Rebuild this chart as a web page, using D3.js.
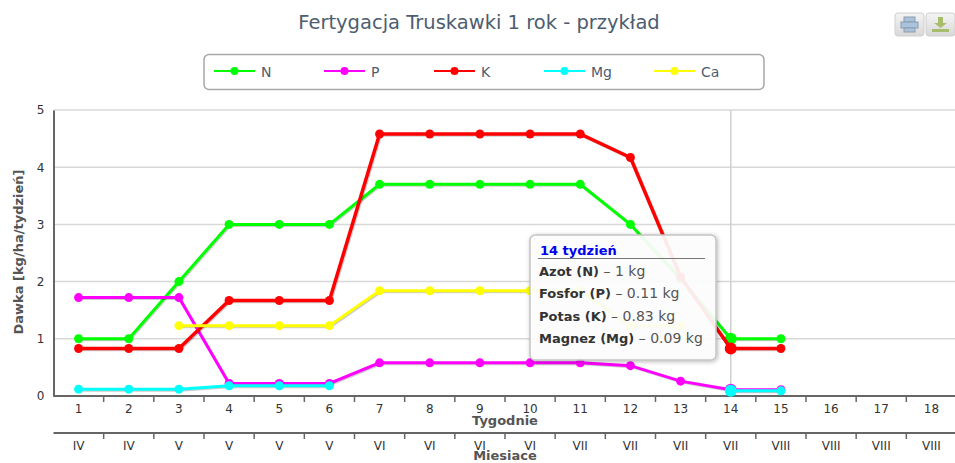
<!DOCTYPE html>
<html>
<head>
<meta charset="utf-8">
<script src="https://cdn.jsdelivr.net/npm/d3@7"></script>
<style>
  html, body { margin: 0; padding: 0; background: #fff; overflow: hidden; }
  text { font-family: "DejaVu Sans", sans-serif; }
</style>
</head>
<body>
<div id="chart"></div>
<script>
const weeks = ['1','2','3','4','5','6','7','8','9','10','11','12','13','14','15','16','17','18'];
const months = ['IV','IV','V','V','V','V','VI','VI','VI','VI','VII','VII','VII','VII','VIII','VIII','VIII','VIII'];

const valuesN = [1, 1, 2, 3, 3, 3, 3.7, 3.7, 3.7, 3.7, 3.7, 3, 2.05, 1, 1, null, null, null];
const valuesP = [1.72, 1.72, 1.72, 0.22, 0.22, 0.22, 0.58, 0.58, 0.58, 0.58, 0.58, 0.53, 0.26, 0.11, 0.11, null, null, null];
const valuesK = [0.83, 0.83, 0.83, 1.67, 1.67, 1.67, 4.58, 4.58, 4.58, 4.58, 4.58, 4.17, 2.08, 0.83, 0.83, null, null, null];
const valuesMg = [0.12, 0.12, 0.12, 0.18, 0.18, 0.18, null, null, null, null, null, null, null, 0.09, 0.09, null, null, null];
const valuesCa = [null, null, 1.23, 1.23, 1.23, 1.23, 1.84, 1.84, 1.84, 1.84, 1.84, 1.23, 1.23, null, null, null, null, null];

const seriesNames = ['N', 'P', 'K', 'Mg', 'Ca'];
const seriesValues = [valuesN, valuesP, valuesK, valuesMg, valuesCa];
const seriesColors = ['#00ff00', '#ff00ff', '#ff0000', '#00ffff', '#ffff00'];
const seriesWidths = [3, 3, 3.5, 3, 3];

const yTicks = [0, 1, 2, 3, 4, 5];
const hoverWeek = '14';
const tooltipTitle = '14 tydzień';
const tooltipLabels = ['Azot (N)', 'Fosfor (P)', 'Potas (K)', 'Magnez (Mg)'];
const tooltipValues = ['1 kg', '0.11 kg', '0.83 kg', '0.09 kg'];

const width = 955, height = 463;
const margin = { top: 110, right: -1.5, bottom: 67, left: 53.5 };
const monthAxisY = 433;

const svg = d3.select('#chart').append('svg')
  .attr('width', width)
  .attr('height', height);

const x = d3.scaleBand()
  .domain(weeks)
  .range([margin.left, width - margin.right]);

const y = d3.scaleLinear()
  .domain([0, 5])
  .range([height - margin.bottom, margin.top]);

// Title
svg.append('text')
  .attr('x', 479)
  .attr('y', 29)
  .attr('text-anchor', 'middle')
  .style('font-size', '19.5px')
  .style('fill', '#4d5d6f')
  .text('Fertygacja Truskawki 1 rok - przykład');

// Export buttons
const defs = svg.append('defs');
const btnGrad = defs.append('linearGradient')
  .attr('id', 'btn-grad')
  .attr('x1', 0).attr('y1', 0).attr('x2', 0).attr('y2', 1);
btnGrad.append('stop').attr('offset', '0%').attr('stop-color', '#f4f4f4');
btnGrad.append('stop').attr('offset', '100%').attr('stop-color', '#d8d8d8');

const shadow = defs.append('filter').attr('id', 'tip-shadow')
  .attr('x', '-10%').attr('y', '-10%').attr('width', '120%').attr('height', '120%');
shadow.append('feDropShadow')
  .attr('dx', 1).attr('dy', 1).attr('stdDeviation', 2)
  .attr('flood-color', '#000').attr('flood-opacity', 0.3);

[895, 926].forEach(bx => {
  svg.append('rect')
    .attr('x', bx).attr('y', 13)
    .attr('width', 29).attr('height', 23)
    .attr('rx', 3)
    .attr('fill', 'url(#btn-grad)')
    .attr('stroke', '#cfcfcf');
});
const printer = svg.append('g').attr('fill', '#a9c3dd').attr('stroke', '#8c9bad');
printer.append('rect').attr('x', 904).attr('y', 17).attr('width', 11).attr('height', 5);
printer.append('rect').attr('x', 901).attr('y', 22).attr('width', 17).attr('height', 6);
printer.append('rect').attr('x', 904).attr('y', 28).attr('width', 11).attr('height', 4);
const download = svg.append('g').attr('fill', '#a8bd6b').attr('stroke', 'none');
download.append('rect').attr('x', 938).attr('y', 17).attr('width', 5).attr('height', 6);
download.append('path').attr('d', 'M934,23 L947,23 L940.5,28 Z');
download.append('rect').attr('x', 932).attr('y', 29).attr('width', 17).attr('height', 3);

// Legend
svg.append('rect')
  .attr('x', 204).attr('y', 54.5)
  .attr('width', 560).attr('height', 35)
  .attr('rx', 5)
  .attr('fill', '#fff')
  .attr('stroke', '#a8a8a8')
  .attr('stroke-width', 1.5);

const legendItems = svg.selectAll('.legend-item')
  .data(seriesNames)
  .enter()
  .append('g')
  .attr('class', 'legend-item')
  .attr('transform', (d, i) => `translate(${214 + i * 110}, 71)`);

legendItems.append('line')
  .attr('x1', 0).attr('x2', 41)
  .attr('stroke', (d, i) => seriesColors[i])
  .attr('stroke-width', 2);
legendItems.append('circle')
  .attr('cx', 20.5)
  .attr('r', 4)
  .attr('fill', (d, i) => seriesColors[i]);
legendItems.append('text')
  .attr('x', 47)
  .attr('y', 5.5)
  .style('font-size', '14px')
  .style('fill', '#4d5d6f')
  .text(d => d);

// Grid
svg.selectAll('.grid-line')
  .data(yTicks.slice(1))
  .enter()
  .append('line')
  .attr('class', 'grid-line')
  .attr('x1', margin.left)
  .attr('x2', width)
  .attr('y1', d => y(d))
  .attr('y2', d => y(d))
  .attr('stroke', '#d8d8d8')
  .attr('stroke-width', 1.5);

// Crosshair
svg.append('line')
  .attr('x1', x(hoverWeek) + x.bandwidth() / 2)
  .attr('x2', x(hoverWeek) + x.bandwidth() / 2)
  .attr('y1', y(5))
  .attr('y2', y(0))
  .attr('stroke', '#cfcfcf')
  .attr('stroke-width', 1.5);

// Axes
const yAxis = d3.axisLeft(y)
  .tickValues(yTicks)
  .tickFormat(d3.format('d'))
  .tickSize(0)
  .tickPadding(9);

const yAxisG = svg.append('g')
  .attr('transform', `translate(${margin.left}, 0)`)
  .call(yAxis);
yAxisG.select('.domain').attr('stroke', '#666').attr('stroke-width', 2);
yAxisG.selectAll('text').style('font-size', '12px').style('fill', '#333');

function addWeekAxis(yPos, format) {
  const axis = d3.axisBottom(x).tickSize(0).tickPadding(8).tickFormat(format);
  const g = svg.append('g')
    .attr('transform', `translate(0, ${yPos})`)
    .call(axis);
  g.select('.domain').remove();
  g.selectAll('text').style('font-size', '12px').style('fill', '#333');
  g.append('line')
    .attr('x1', margin.left)
    .attr('x2', width)
    .attr('stroke', '#666')
    .attr('stroke-width', 2);
  g.selectAll('.boundary')
    .data(weeks)
    .enter()
    .append('line')
    .attr('class', 'boundary')
    .attr('x1', d => x(d) + x.bandwidth())
    .attr('x2', d => x(d) + x.bandwidth())
    .attr('y1', 0)
    .attr('y2', 6)
    .attr('stroke', '#666')
    .attr('stroke-width', 1.5);
}

addWeekAxis(y(0), d => d);
addWeekAxis(monthAxisY, (d, i) => months[i]);

// Axis titles
svg.append('text')
  .attr('transform', 'translate(23, 252) rotate(-90)')
  .attr('text-anchor', 'middle')
  .style('font-size', '13px')
  .style('font-weight', 'bold')
  .style('fill', '#555')
  .text('Dawka [kg/ha/tydzień]');

svg.append('text')
  .attr('x', 505)
  .attr('y', 425)
  .attr('text-anchor', 'middle')
  .style('font-size', '13px')
  .style('font-weight', 'bold')
  .style('fill', '#555')
  .text('Tygodnie');

svg.append('text')
  .attr('x', 505)
  .attr('y', 460)
  .attr('text-anchor', 'middle')
  .style('font-size', '13px')
  .style('font-weight', 'bold')
  .style('fill', '#555')
  .text('Miesiace');

// Series
const line = d3.line()
  .defined(d => d.value !== null)
  .x(d => x(d.week) + x.bandwidth() / 2)
  .y(d => y(d.value));

seriesNames.forEach((name, i) => {
  const points = weeks.map((week, j) => ({ week, value: seriesValues[i][j] }));
  const g = svg.append('g').attr('class', `series-${name}`);

  g.append('path')
    .datum(points)
    .attr('d', line)
    .attr('transform', 'translate(1, 1)')
    .attr('fill', 'none')
    .attr('stroke', '#000')
    .attr('stroke-opacity', 0.2)
    .attr('stroke-width', seriesWidths[i]);

  g.append('path')
    .datum(points)
    .attr('d', line)
    .attr('fill', 'none')
    .attr('stroke', seriesColors[i])
    .attr('stroke-width', seriesWidths[i]);

  g.selectAll('circle')
    .data(points.filter(d => d.value !== null))
    .enter()
    .append('circle')
    .attr('cx', d => x(d.week) + x.bandwidth() / 2)
    .attr('cy', d => y(d.value))
    .attr('r', d => d.week === hoverWeek ? 6 : 4.5)
    .attr('fill', seriesColors[i]);
});

// Tooltip
const tip = svg.append('g').attr('transform', 'translate(530, 235)');
tip.append('rect')
  .attr('width', 186)
  .attr('height', 125)
  .attr('rx', 5)
  .attr('fill', '#fff')
  .attr('fill-opacity', 0.9)
  .attr('stroke', '#c4c4c4')
  .attr('stroke-width', 1.5)
  .attr('filter', 'url(#tip-shadow)');
tip.append('text')
  .attr('x', 10)
  .attr('y', 20)
  .style('font-size', '13px')
  .style('font-weight', 'bold')
  .style('fill', '#0000ee')
  .text(tooltipTitle);
tip.append('line')
  .attr('x1', 8).attr('x2', 175)
  .attr('y1', 23.5).attr('y2', 23.5)
  .attr('stroke', '#777');

const tipRows = tip.selectAll('.tip-row')
  .data(tooltipLabels)
  .enter()
  .append('text')
  .attr('class', 'tip-row')
  .attr('x', 9)
  .attr('y', (d, i) => 41 + i * 22.4)
  .style('font-size', '14px')
  .style('fill', '#555');
tipRows.append('tspan')
  .style('font-size', '13px')
  .style('font-weight', 'bold')
  .style('fill', '#333')
  .text(d => d);
tipRows.append('tspan')
  .text((d, i) => ` – ${tooltipValues[i]}`);
</script>
</body>
</html>
